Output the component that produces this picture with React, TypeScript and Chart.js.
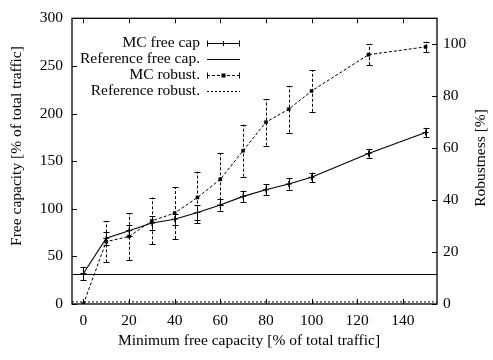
import React, { useEffect, useRef } from "react";
import { Chart, registerables } from "chart.js";

Chart.register(...registerables);

// Minimum free capacity (% of total traffic) for each simulation run
const minFreeCapacity = [0, 10, 20, 30, 40, 50, 60, 70, 80, 90, 100, 125, 150];
// Monte Carlo free capacity (left axis) and its error
const mcFreeCap = [32, 69, 77, 85, 89, 96, 104, 113, 120, 126, 133, 158, 180];
const mcFreeCapErr = [7, 7, 6, 7, 6, 8, 6, 6, 6, 6, 5, 5, 5];
// Monte Carlo robustness (right axis) and its error
const mcRobust = [0, 24, 26, 32, 35, 41, 48, 59, 70, 75, 82, 96, 99];
const mcRobustErr = [0, 8, 9, 9, 10, 10, 10, 10, 9, 9, 8, 4, 2];
// Reference levels
const refFreeCap = 31;
const refRobust = 0.8;

const xTicks = [0, 20, 40, 60, 80, 100, 120, 140];
const leftTicks = [0, 50, 100, 150, 200, 250, 300];
const rightTicks = [0, 20, 40, 60, 80, 100];

const X_MIN = -5;
const X_MAX = 155;

const FONT = "'Liberation Serif', 'Times New Roman', serif";
const FS = 15.5;

const W = 493;
const H = 360;
const AREA = { left: 72, right: 437, top: 13, bottom: 304 };

// Vertical error bars with caps, following each dataset's dash style
const errorBars = {
  id: "errorBars",
  afterDatasetsDraw(chart: any) {
    const ctx = chart.ctx;
    chart.data.datasets.forEach((ds: any, i: number) => {
      if (!ds.errors) return;
      const meta = chart.getDatasetMeta(i);
      const ys = chart.scales[ds.yAxisID];
      const xs = chart.scales.x;
      ctx.save();
      ctx.strokeStyle = "#000";
      ctx.lineWidth = 1;
      ctx.setLineDash(ds.borderDash || []);
      ds.data.forEach((pt: any, j: number) => {
        const e = ds.errors[j];
        if (!e) return;
        const px = Math.round(xs.getPixelForValue(pt.x)) + 0.5;
        const y1 = ys.getPixelForValue(pt.y - e);
        const y2 = ys.getPixelForValue(pt.y + e);
        ctx.beginPath();
        ctx.moveTo(px, y1);
        ctx.lineTo(px, y2);
        ctx.stroke();
        ctx.setLineDash([]);
        ctx.beginPath();
        ctx.moveTo(px - 3, Math.round(y1) + 0.5);
        ctx.lineTo(px + 3, Math.round(y1) + 0.5);
        ctx.moveTo(px - 3, Math.round(y2) + 0.5);
        ctx.lineTo(px + 3, Math.round(y2) + 0.5);
        ctx.stroke();
        ctx.setLineDash(ds.borderDash || []);
      });
      ctx.restore();
    });
  },
};

// Border box, inward tick marks, axis titles and the key
const frame = {
  id: "frame",
  afterDraw(chart: any) {
    const ctx = chart.ctx;
    const { left, right, top, bottom } = chart.chartArea;
    const sx = chart.scales.x;
    const sl = chart.scales.y;
    const sr = chart.scales.y2;
    const T = 5;
    ctx.save();
    ctx.strokeStyle = "#000";
    ctx.lineWidth = 1;
    ctx.beginPath();
    xTicks.forEach((v) => {
      const p = Math.round(sx.getPixelForValue(v)) + 0.5;
      ctx.moveTo(p, bottom);
      ctx.lineTo(p, bottom - T);
      ctx.moveTo(p, top);
      ctx.lineTo(p, top + T);
    });
    leftTicks.forEach((v) => {
      const p = Math.round(sl.getPixelForValue(v)) + 0.5;
      ctx.moveTo(left, p);
      ctx.lineTo(left + T, p);
    });
    rightTicks.forEach((v) => {
      const p = Math.round(sr.getPixelForValue(v)) + 0.5;
      ctx.moveTo(right, p);
      ctx.lineTo(right - T, p);
    });
    ctx.stroke();
    ctx.lineWidth = 1.3;
    ctx.strokeRect(left, top, right - left, bottom - top);

    // axis titles
    ctx.fillStyle = "#000";
    ctx.font = `${FS}px ${FONT}`;
    ctx.textAlign = "center";
    ctx.textBaseline = "middle";
    ctx.fillText("Minimum free capacity [% of total traffic]", 249, 341);
    ctx.save();
    ctx.translate(17, 146);
    ctx.rotate(-Math.PI / 2);
    ctx.fillText("Free capacity [% of total traffic]", 0, 0);
    ctx.restore();
    ctx.save();
    ctx.translate(481, 158);
    ctx.rotate(-Math.PI / 2);
    ctx.fillText("Robustness [%]", 0, 0);
    ctx.restore();

    // key
    const textRight = 200;
    const s0 = 207;
    const s1 = 240;
    const sm = 223.5;
    const rows = [43, 59, 75, 91];
    ctx.textAlign = "right";
    chart.data.datasets.forEach((ds: any, i: number) => {
      const y = rows[i];
      const yl = Math.round(y) + 0.5;
      ctx.fillText(ds.label, textRight, y);
      ctx.lineWidth = 1;
      ctx.setLineDash(ds.borderDash || []);
      ctx.beginPath();
      ctx.moveTo(s0, yl);
      ctx.lineTo(s1, yl);
      ctx.stroke();
      ctx.setLineDash([]);
      if (ds.errors) {
        ctx.beginPath();
        ctx.moveTo(s0 + 0.5, yl - 3);
        ctx.lineTo(s0 + 0.5, yl + 3);
        ctx.moveTo(s1 - 0.5, yl - 3);
        ctx.lineTo(s1 - 0.5, yl + 3);
        ctx.stroke();
        if (ds.pointStyle === "cross") {
          ctx.beginPath();
          ctx.moveTo(sm - 2.5, yl);
          ctx.lineTo(sm + 2.5, yl);
          ctx.moveTo(sm, yl - 2.5);
          ctx.lineTo(sm, yl + 2.5);
          ctx.stroke();
        } else {
          ctx.fillRect(sm - 2, yl - 2, 4, 4);
        }
      }
    });
    ctx.restore();
  },
};

export default function App() {
  const ref = useRef<HTMLCanvasElement | null>(null);

  useEffect(() => {
    if (!ref.current) return;
    const tickFont = { family: FONT, size: FS };
    const chart = new Chart(ref.current, {
      type: "line",
      data: {
        datasets: [
          {
            label: "MC free cap",
            data: minFreeCapacity.map((x, i) => ({ x, y: mcFreeCap[i] })),
            errors: mcFreeCapErr,
            yAxisID: "y",
            borderColor: "#000",
            backgroundColor: "#000",
            borderWidth: 1.1,
            pointStyle: "cross",
            pointRadius: 3,
            pointBorderWidth: 1,
            borderDash: [],
          } as any,
          {
            label: "Reference free cap.",
            data: [
              { x: X_MIN, y: refFreeCap },
              { x: X_MAX, y: refFreeCap },
            ],
            yAxisID: "y",
            borderColor: "#000",
            borderWidth: 1,
            pointRadius: 0,
            borderDash: [],
          },
          {
            label: "MC robust.",
            data: minFreeCapacity.map((x, i) => ({ x, y: mcRobust[i] })),
            errors: mcRobustErr,
            yAxisID: "y2",
            borderColor: "#000",
            backgroundColor: "#000",
            borderWidth: 1,
            borderDash: [3, 2],
            pointStyle: "rect",
            pointRadius: 2.2,
            pointBorderWidth: 0.5,
          } as any,
          {
            label: "Reference robust.",
            data: [
              { x: X_MIN, y: refRobust },
              { x: X_MAX, y: refRobust },
            ],
            yAxisID: "y2",
            borderColor: "#000",
            borderWidth: 1,
            borderDash: [2, 2],
            pointRadius: 0,
          },
        ],
      },
      options: {
        animation: false,
        responsive: false,
        events: [],
        layout: { padding: { top: AREA.top, left: 0, right: 0, bottom: 0 } },
        plugins: { legend: { display: false }, tooltip: { enabled: false } },
        scales: {
          x: {
            type: "linear",
            min: X_MIN,
            max: X_MAX,
            afterBuildTicks: (s: any) => {
              s.ticks = xTicks.map((v) => ({ value: v }));
            },
            afterFit: (s: any) => {
              s.height = H - AREA.bottom;
            },
            grid: { display: false, drawTicks: false },
            border: { display: false },
            ticks: { font: tickFont, color: "#000", padding: 8, maxRotation: 0 },
          },
          y: {
            type: "linear",
            position: "left",
            min: 0,
            max: 300,
            afterBuildTicks: (s: any) => {
              s.ticks = leftTicks.map((v) => ({ value: v }));
            },
            afterFit: (s: any) => {
              s.width = AREA.left;
            },
            grid: { display: false, drawTicks: false },
            border: { display: false },
            ticks: { font: tickFont, color: "#000", padding: 9 },
          },
          y2: {
            type: "linear",
            position: "right",
            min: 0,
            max: 110,
            afterBuildTicks: (s: any) => {
              s.ticks = rightTicks.map((v) => ({ value: v }));
            },
            afterFit: (s: any) => {
              s.width = W - AREA.right;
            },
            grid: { display: false, drawTicks: false },
            border: { display: false },
            ticks: { font: tickFont, color: "#000", padding: 6 },
          },
        },
      } as any,
      plugins: [errorBars, frame],
    });
    return () => chart.destroy();
  }, []);

  return (
    <div style={{ position: "fixed", left: 0, top: 0, width: W, height: H, background: "#fff" }}>
      <canvas ref={ref} width={W} height={H} style={{ display: "block" }} />
    </div>
  );
}
